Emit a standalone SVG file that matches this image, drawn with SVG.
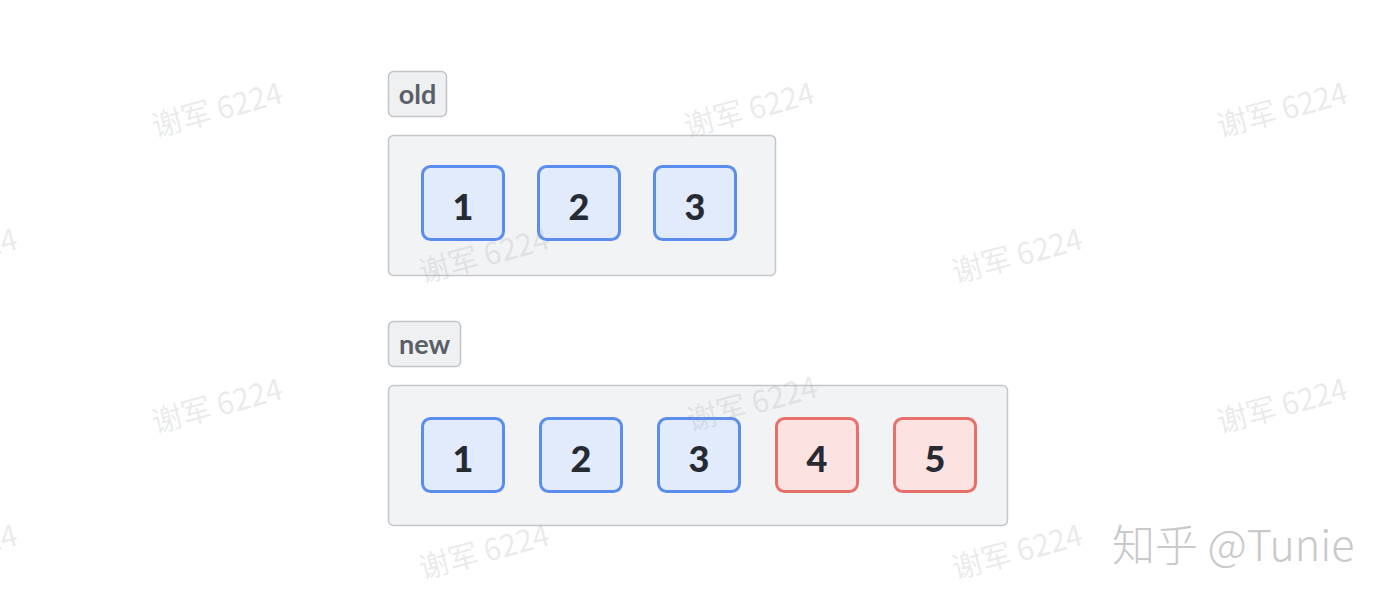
<svg xmlns="http://www.w3.org/2000/svg" width="1390" height="602" viewBox="0 0 1390 602">
<style>
.wm{font-family:"Noto Sans CJK SC","Noto Sans",sans-serif;font-size:30px;fill:#9ca1a8;fill-opacity:0.22;text-anchor:middle;}
.tag{fill:#eff0f2;stroke:#c2c4c8;stroke-width:1.5;}
.tagt{font-family:Lato,"Noto Sans",sans-serif;font-weight:700;font-size:27px;fill:#5a5f68;text-anchor:middle;}
.cont{fill:#f2f3f5;stroke:#c4c6ca;stroke-width:1.5;}
.b{fill:#e1ebfc;stroke:#5b8def;stroke-width:3;}
.r{fill:#fde2e2;stroke:#e8706a;stroke-width:3;}
.n{font-family:Lato,"Noto Sans",sans-serif;font-weight:900;font-size:36px;fill:#262b33;text-anchor:middle;}
.zh{font-family:"Noto Sans CJK SC","Noto Sans",sans-serif;font-size:43px;fill:#c9c9c9;font-weight:300;}
</style>
<rect width="1390" height="602" fill="#ffffff"/>
<g id="old-label"><rect class="tag" x="388.5" y="71.5" width="58" height="45" rx="5"/><text class="tagt" x="417.5" y="104">old</text></g>
<g id="old-container"><rect class="cont" x="388.5" y="135.5" width="387" height="140" rx="5"/></g>
<g id="old-1"><rect class="b" x="422.5" y="166.5" width="81" height="73" rx="8"/><text class="n" x="463" y="220">1</text></g>
<g id="old-2"><rect class="b" x="538.5" y="166.5" width="81" height="73" rx="8"/><text class="n" x="579" y="220">2</text></g>
<g id="old-3"><rect class="b" x="654.5" y="166.5" width="81" height="73" rx="8"/><text class="n" x="695" y="220">3</text></g>
<g id="new-label"><rect class="tag" x="388.5" y="321.5" width="72" height="45" rx="5"/><text class="tagt" x="424.5" y="354">new</text></g>
<g id="new-container"><rect class="cont" x="388.5" y="385.5" width="619" height="140" rx="5"/></g>
<g id="new-1"><rect class="b" x="422.5" y="418.5" width="81" height="73" rx="8"/><text class="n" x="463" y="472">1</text></g>
<g id="new-2"><rect class="b" x="540.5" y="418.5" width="81" height="73" rx="8"/><text class="n" x="581" y="472">2</text></g>
<g id="new-3"><rect class="b" x="658.5" y="418.5" width="81" height="73" rx="8"/><text class="n" x="699" y="472">3</text></g>
<g id="new-4"><rect class="r" x="776.5" y="418.5" width="81" height="73" rx="8"/><text class="n" x="817" y="472">4</text></g>
<g id="new-5"><rect class="r" x="894.5" y="418.5" width="81" height="73" rx="8"/><text class="n" x="935" y="472">5</text></g>
<g id="connectors"></g>
<g id="watermarks">
<text class="wm" transform="translate(220,120) rotate(-15)">谢军 6224</text>
<text class="wm" transform="translate(752,120) rotate(-15)">谢军 6224</text>
<text class="wm" transform="translate(1285,120) rotate(-15)">谢军 6224</text>
<text class="wm" transform="translate(-45,266) rotate(-15)">谢军 6224</text>
<text class="wm" transform="translate(487,266) rotate(-15)">谢军 6224</text>
<text class="wm" transform="translate(1020,266) rotate(-15)">谢军 6224</text>
<text class="wm" transform="translate(220,416) rotate(-15)">谢军 6224</text>
<text class="wm" transform="translate(755,414) rotate(-15)">谢军 6224</text>
<text class="wm" transform="translate(1285,416) rotate(-15)">谢军 6224</text>
<text class="wm" transform="translate(-45,562) rotate(-15)">谢军 6224</text>
<text class="wm" transform="translate(487,562) rotate(-15)">谢军 6224</text>
<text class="wm" transform="translate(1020,562) rotate(-15)">谢军 6224</text>
</g>
<g id="credit"><text class="zh" x="1112" y="561">知乎 @Tunie</text></g>
</svg>
